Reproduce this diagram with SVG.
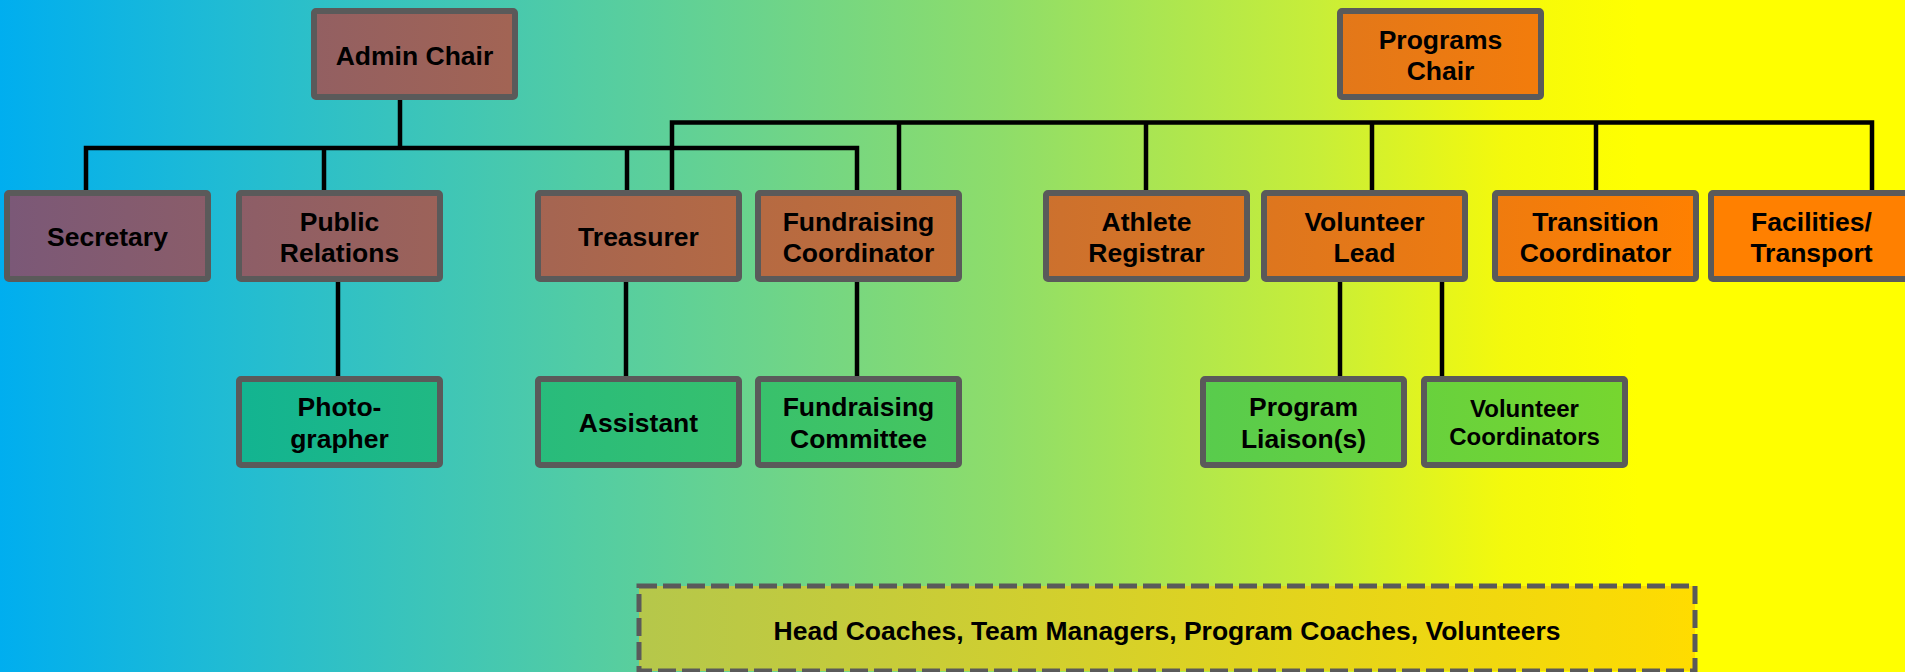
<svg xmlns="http://www.w3.org/2000/svg" width="1905" height="672" viewBox="0 0 1905 672">
<defs>
<linearGradient id="bg" gradientUnits="userSpaceOnUse" x1="0" y1="0" x2="1905" y2="0">
<stop offset="0" stop-color="#00AEEF"/>
<stop offset="0.125" stop-color="#22BCD2"/>
<stop offset="0.336" stop-color="#5ACF9C"/>
<stop offset="0.525" stop-color="#8EDD6A"/>
<stop offset="0.693" stop-color="#C8EE38"/>
<stop offset="0.79" stop-color="#F4F90C"/>
<stop offset="0.86" stop-color="#FFFF00"/>
<stop offset="1" stop-color="#FFFF00"/>
</linearGradient>
<linearGradient id="g1" gradientUnits="userSpaceOnUse" x1="0" y1="0" x2="1905" y2="0">
<stop offset="0" stop-color="#7A5878"/>
<stop offset="0.892" stop-color="#FF8000"/>
<stop offset="1" stop-color="#FF8000"/>
</linearGradient>
<linearGradient id="g2" gradientUnits="userSpaceOnUse" x1="0" y1="0" x2="1905" y2="0">
<stop offset="0" stop-color="#01AEA2"/>
<stop offset="1" stop-color="#8BDD1B"/>
</linearGradient>
<linearGradient id="g3" gradientUnits="userSpaceOnUse" x1="639" y1="0" x2="1695" y2="0">
<stop offset="0" stop-color="#B5C74B"/>
<stop offset="1" stop-color="#FFDC00"/>
</linearGradient>
</defs>
<style>
.b1{fill:url(#g1);stroke:#5A5A5A;stroke-width:6}
.b2{fill:url(#g2);stroke:#5A5A5A;stroke-width:6}
.b3{fill:url(#g3);stroke:#5A5A5A;stroke-width:5;stroke-dasharray:18 6}
text{font-family:"Liberation Sans",Arial,Helvetica,sans-serif;font-weight:bold;font-size:26.5px;fill:#000;text-anchor:middle}
.sm{font-size:24px}
.c{fill:none;stroke:#000;stroke-width:4.5;stroke-linejoin:miter;stroke-linecap:butt}
</style>
<rect x="0" y="0" width="1905" height="672" fill="url(#bg)"/>
<g id="connectors">
<path class="c" d="M400 100 V148"/>
<path class="c" d="M86 191 V148 H857 V191"/>
<path class="c" d="M324 148 V191"/>
<path class="c" d="M627 148 V191"/>
<path class="c" d="M672 191 V122.5 H1872 V191"/>
<path class="c" d="M899 122.5 V191"/>
<path class="c" d="M1146 122.5 V191"/>
<path class="c" d="M1372 122.5 V191"/>
<path class="c" d="M1596 122.5 V191"/>
<path class="c" d="M338 282 V377"/>
<path class="c" d="M626 282 V377"/>
<path class="c" d="M857 282 V377"/>
<path class="c" d="M1340 282 V377"/>
<path class="c" d="M1442 282 V377"/>
</g>
<g id="admin-chair"><rect class="b1" x="314" y="11" width="201" height="86" rx="2"/><text x="414.5" y="64.5">Admin Chair</text></g>
<g id="programs-chair"><rect class="b1" x="1340" y="11" width="201" height="86" rx="2"/><text x="1440.5" y="48.5">Programs</text><text x="1440.5" y="80">Chair</text></g>
<g id="secretary"><rect class="b1" x="7" y="193" width="201" height="86" rx="2"/><text x="107.5" y="246">Secretary</text></g>
<g id="public-relations"><rect class="b1" x="239" y="193" width="201" height="86" rx="2"/><text x="339.5" y="230.5">Public</text><text x="339.5" y="262">Relations</text></g>
<g id="treasurer"><rect class="b1" x="538" y="193" width="201" height="86" rx="2"/><text x="638.5" y="246">Treasurer</text></g>
<g id="fundraising-coordinator"><rect class="b1" x="758" y="193" width="201" height="86" rx="2"/><text x="858.5" y="230.5">Fundraising</text><text x="858.5" y="262">Coordinator</text></g>
<g id="athlete-registrar"><rect class="b1" x="1046" y="193" width="201" height="86" rx="2"/><text x="1146.5" y="230.5">Athlete</text><text x="1146.5" y="262">Registrar</text></g>
<g id="volunteer-lead"><rect class="b1" x="1264" y="193" width="201" height="86" rx="2"/><text x="1364.5" y="230.5">Volunteer</text><text x="1364.5" y="262">Lead</text></g>
<g id="transition-coordinator"><rect class="b1" x="1495" y="193" width="201" height="86" rx="2"/><text x="1595.5" y="230.5">Transition</text><text x="1595.5" y="262">Coordinator</text></g>
<g id="facilities-transport"><rect class="b1" x="1711" y="193" width="201" height="86" rx="2"/><text x="1811.5" y="230.5">Facilities/</text><text x="1811.5" y="262">Transport</text></g>
<g id="photographer"><rect class="b2" x="239" y="379" width="201" height="86" rx="2"/><text x="339.5" y="416">Photo-</text><text x="339.5" y="447.5">grapher</text></g>
<g id="assistant"><rect class="b2" x="538" y="379" width="201" height="86" rx="2"/><text x="638.5" y="432">Assistant</text></g>
<g id="fundraising-committee"><rect class="b2" x="758" y="379" width="201" height="86" rx="2"/><text x="858.5" y="416">Fundraising</text><text x="858.5" y="447.5">Committee</text></g>
<g id="program-liaisons"><rect class="b2" x="1203" y="379" width="201" height="86" rx="2"/><text x="1303.5" y="416">Program</text><text x="1303.5" y="447.5">Liaison(s)</text></g>
<g id="volunteer-coordinators"><rect class="b2" x="1424" y="379" width="201" height="86" rx="2"/><text class="sm" x="1524.5" y="416.5">Volunteer</text><text class="sm" x="1524.5" y="445">Coordinators</text></g>
<g id="coaches-volunteers"><rect class="b3" x="639" y="586" width="1056" height="85"/><text x="1167" y="640">Head Coaches, Team Managers, Program Coaches, Volunteers</text></g>
</svg>
